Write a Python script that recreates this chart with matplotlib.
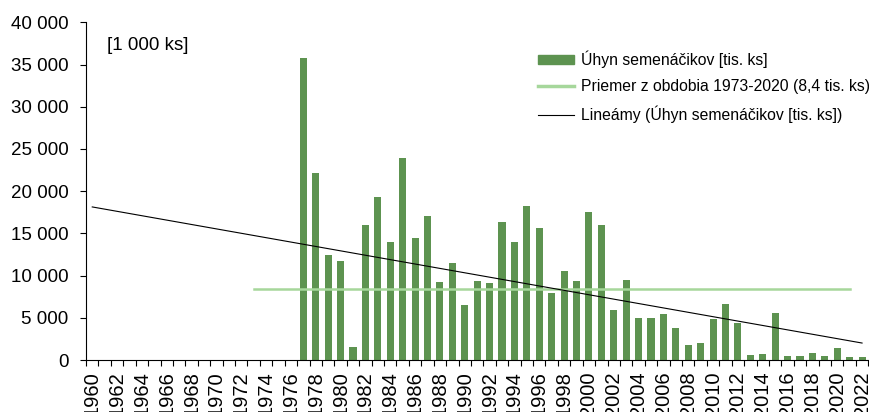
import numpy as np
import matplotlib
matplotlib.use('Agg')
import matplotlib.pyplot as plt
from matplotlib.patches import Patch
from matplotlib.lines import Line2D
from matplotlib.ticker import FuncFormatter, FixedLocator

plt.rcParams['font.family'] = ['Liberation Sans', 'DejaVu Sans']

# Data: seedling loss [thousand pcs], 1977-2022
years = list(range(1960, 2023))
data_years = list(range(1977, 2023))
loss = [35800, 22100, 12400, 11700, 1500, 16000, 19300, 14000, 23900, 14500,
        17000, 9200, 11500, 6500, 9400, 9100, 16300, 14000, 18300, 15600,
        7900, 10600, 9400, 17500, 16000, 5900, 9500, 5000, 5000, 5500,
        3800, 1800, 2000, 4800, 6600, 4400, 600, 700, 5600, 500,
        500, 800, 500, 1400, 400, 400]
mean_value = 8400
mean_years = list(range(1973, 2022))
# linear trendline as drawn in the source chart (value in 1960 and 2022)
trend_years = [1960, 2022]
trend_values = [18130, 2010]

label_bar = 'Úhyn semenáčikov [tis. ks]'
label_mean = 'Priemer z obdobia 1973-2020 (8,4 tis. ks)'
label_trend = 'Lineámy (Úhyn semenáčikov [tis. ks])'

bar_color = '#5d9350'
mean_color = '#a6d79b'

idx = {y: i for i, y in enumerate(years)}
bar_x = [idx[y] for y in data_years]
mean_x = [idx[y] for y in mean_years]
trend_x = [idx[y] for y in trend_years]

fig = plt.figure(figsize=(8.7, 4.12), dpi=100)
ax = fig.add_axes([0.0989, 0.1262, 0.8991, 0.8197])

ax.bar(bar_x, loss, width=0.57, color=bar_color, zorder=2)
ax.plot(mean_x, [mean_value] * len(mean_x), color=mean_color, lw=1.8, zorder=3)
ax.plot(trend_x, trend_values, color='black', lw=0.8, zorder=4)

ax.set_xlim(-0.5, len(years) - 0.5)
ax.set_ylim(0, 40000)
ax.set_yticks(range(0, 40001, 5000))
ax.yaxis.set_major_formatter(FuncFormatter(lambda v, p: f'{int(v):,}'.replace(',', ' ')))

# labels every second year at centres, ticks at category boundaries
ax.xaxis.set_major_locator(FixedLocator(list(range(0, len(years), 2))))
ax.set_xticklabels([str(y) for y in years[::2]], rotation=90)
ax.xaxis.set_minor_locator(FixedLocator(np.arange(-0.5, len(years), 1.0)))
ax.tick_params(axis='x', which='major', length=0, pad=8, labelsize=14.5)
ax.tick_params(axis='x', which='minor', length=4.5, width=0.8, direction='out')
ax.tick_params(axis='y', length=4.5, width=0.8, pad=8, labelsize=13.5)

for s in ['top', 'right']:
    ax.spines[s].set_visible(False)
for s in ['left', 'bottom']:
    ax.spines[s].set_linewidth(0.8)

ax.text(0.027, 0.93, '[1 000 ks]', transform=ax.transAxes, fontsize=13.5,
        va='center', ha='left')

handles = [Patch(color=bar_color, label=label_bar),
           Line2D([], [], color=mean_color, lw=2.5, label=label_mean),
           Line2D([], [], color='black', lw=0.8, label=label_trend)]
ax.legend(handles=handles, loc='upper left', bbox_to_anchor=(0.57, 0.935),
          frameon=False, fontsize=11.3, handlelength=2.3, handleheight=0.55,
          handletextpad=0.4, labelspacing=0.72, borderaxespad=0)

fig.savefig('out.png', dpi=100)
